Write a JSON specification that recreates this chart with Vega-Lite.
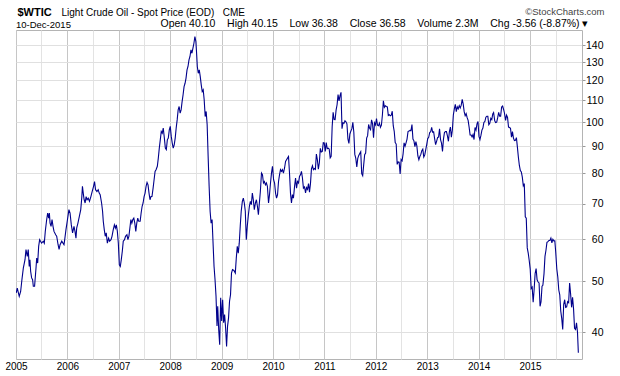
{
  "$schema": "https://vega.github.io/schema/vega-lite/v6.json",
  "width": 566,
  "height": 329,
  "autosize": "none",
  "padding": {"left": 16, "top": 30, "right": 38, "bottom": 17},
  "background": "white",
  "title": {
    "text": "10-Dec-2015",
    "anchor": "start",
    "frame": "group",
    "font": "Liberation Sans",
    "fontSize": 9.5,
    "fontWeight": "normal",
    "color": "#000000",
    "offset": -23
  },
  "config": {
    "view": {"stroke": "#b4b4b4", "strokeWidth": 1},
    "font": "Liberation Sans"
  },
  "data": {"values": [
    {"d":"2005-01-03","v":47.5},{"d":"2005-01-10","v":48.5},{"d":"2005-01-24","v":46.8},{"d":"2005-02-03","v":47.8},{"d":"2005-02-12","v":50.3},{"d":"2005-02-22","v":52.9},{"d":"2005-03-06","v":54.9},{"d":"2005-03-13","v":57.4},{"d":"2005-03-22","v":55.7},{"d":"2005-03-29","v":57.4},{"d":"2005-04-05","v":53.3},{"d":"2005-04-10","v":54.9},{"d":"2005-04-15","v":52.2},{"d":"2005-04-22","v":50.7},{"d":"2005-04-29","v":50.3},{"d":"2005-05-04","v":48.9},{"d":"2005-05-13","v":48.9},{"d":"2005-05-23","v":52.9},{"d":"2005-05-28","v":55.3},{"d":"2005-06-04","v":54.1},{"d":"2005-06-11","v":58.2},{"d":"2005-06-18","v":59.9},{"d":"2005-07-02","v":59.0},{"d":"2005-07-14","v":59.5},{"d":"2005-07-21","v":59.0},{"d":"2005-07-28","v":62.1},{"d":"2005-08-07","v":65.4},{"d":"2005-08-14","v":67.3},{"d":"2005-08-21","v":65.8},{"d":"2005-08-26","v":67.3},{"d":"2005-08-31","v":64.4},{"d":"2005-09-07","v":63.5},{"d":"2005-09-14","v":65.4},{"d":"2005-09-21","v":63.5},{"d":"2005-09-28","v":62.1},{"d":"2005-10-10","v":61.2},{"d":"2005-10-17","v":60.8},{"d":"2005-10-27","v":58.6},{"d":"2005-11-03","v":57.4},{"d":"2005-11-10","v":58.6},{"d":"2005-11-22","v":59.5},{"d":"2005-12-01","v":59.0},{"d":"2005-12-08","v":58.6},{"d":"2005-12-13","v":59.9},{"d":"2005-12-22","v":62.6},{"d":"2005-12-29","v":64.4},
    {"d":"2006-01-12","v":68.3},{"d":"2006-01-20","v":67.3},{"d":"2006-01-29","v":63.9},{"d":"2006-02-07","v":61.7},{"d":"2006-02-17","v":63.5},{"d":"2006-02-24","v":62.1},{"d":"2006-03-03","v":60.3},{"d":"2006-03-08","v":63.0},{"d":"2006-03-17","v":64.4},{"d":"2006-03-27","v":66.3},{"d":"2006-04-06","v":68.3},{"d":"2006-04-13","v":71.8},{"d":"2006-04-18","v":75.6},{"d":"2006-04-25","v":72.9},{"d":"2006-04-30","v":71.3},{"d":"2006-05-07","v":70.3},{"d":"2006-05-14","v":72.3},{"d":"2006-05-21","v":71.3},{"d":"2006-05-29","v":71.8},{"d":"2006-06-07","v":70.8},{"d":"2006-06-17","v":72.3},{"d":"2006-06-26","v":73.9},{"d":"2006-07-06","v":75.6},{"d":"2006-07-13","v":77.2},{"d":"2006-07-20","v":74.5},{"d":"2006-07-30","v":73.9},{"d":"2006-08-08","v":74.5},{"d":"2006-08-15","v":73.4},{"d":"2006-08-22","v":72.9},{"d":"2006-09-01","v":70.3},{"d":"2006-09-08","v":67.8},{"d":"2006-09-13","v":64.9},{"d":"2006-09-20","v":62.6},{"d":"2006-09-27","v":60.8},{"d":"2006-10-04","v":61.7},{"d":"2006-10-12","v":59.0},{"d":"2006-10-21","v":60.3},{"d":"2006-10-28","v":59.5},{"d":"2006-11-07","v":59.9},{"d":"2006-11-14","v":60.8},{"d":"2006-11-23","v":62.6},{"d":"2006-12-01","v":63.9},{"d":"2006-12-08","v":63.0},{"d":"2006-12-15","v":63.9},{"d":"2006-12-22","v":62.1},{"d":"2006-12-29","v":59.0},
    {"d":"2007-01-05","v":53.7},{"d":"2007-01-12","v":53.3},{"d":"2007-01-19","v":54.9},{"d":"2007-01-26","v":56.9},{"d":"2007-02-02","v":59.5},{"d":"2007-02-11","v":59.9},{"d":"2007-02-18","v":60.8},{"d":"2007-02-28","v":61.2},{"d":"2007-03-07","v":59.9},{"d":"2007-03-14","v":60.8},{"d":"2007-03-21","v":63.0},{"d":"2007-03-28","v":65.4},{"d":"2007-04-04","v":64.4},{"d":"2007-04-11","v":65.4},{"d":"2007-04-18","v":65.8},{"d":"2007-04-25","v":64.4},{"d":"2007-05-02","v":62.1},{"d":"2007-05-09","v":64.4},{"d":"2007-05-16","v":65.8},{"d":"2007-05-23","v":64.9},{"d":"2007-06-02","v":64.9},{"d":"2007-06-09","v":67.3},{"d":"2007-06-16","v":69.3},{"d":"2007-06-23","v":70.3},{"d":"2007-06-30","v":72.3},{"d":"2007-07-07","v":73.4},{"d":"2007-07-14","v":75.6},{"d":"2007-07-21","v":76.9},{"d":"2007-07-28","v":76.1},{"d":"2007-08-04","v":73.4},{"d":"2007-08-11","v":71.3},{"d":"2007-08-18","v":72.3},{"d":"2007-08-25","v":72.3},{"d":"2007-09-02","v":75.0},{"d":"2007-09-09","v":77.8},{"d":"2007-09-16","v":80.7},{"d":"2007-09-23","v":81.3},{"d":"2007-10-02","v":82.5},{"d":"2007-10-09","v":85.5},{"d":"2007-10-16","v":89.3},{"d":"2007-10-23","v":92.6},{"d":"2007-10-30","v":96.0},{"d":"2007-11-06","v":95.3},{"d":"2007-11-13","v":97.5},{"d":"2007-11-21","v":93.3},{"d":"2007-11-28","v":89.3},{"d":"2007-12-05","v":88.7},{"d":"2007-12-12","v":92.6},{"d":"2007-12-19","v":93.3},{"d":"2007-12-26","v":96.7},
    {"d":"2008-01-02","v":98.2},{"d":"2008-01-09","v":94.0},{"d":"2008-01-16","v":91.3},{"d":"2008-01-23","v":89.3},{"d":"2008-01-30","v":90.6},{"d":"2008-02-06","v":93.3},{"d":"2008-02-13","v":97.5},{"d":"2008-02-20","v":101.0},{"d":"2008-02-27","v":105.5},{"d":"2008-03-05","v":107.1},{"d":"2008-03-12","v":104.0},{"d":"2008-03-19","v":105.5},{"d":"2008-03-26","v":109.4},{"d":"2008-04-02","v":112.7},{"d":"2008-04-09","v":116.8},{"d":"2008-04-16","v":118.5},{"d":"2008-04-23","v":121.2},{"d":"2008-04-30","v":125.6},{"d":"2008-05-07","v":127.5},{"d":"2008-05-14","v":131.2},{"d":"2008-05-21","v":133.2},{"d":"2008-05-28","v":137.1},{"d":"2008-06-04","v":135.1},{"d":"2008-06-11","v":138.1},{"d":"2008-06-18","v":141.1},{"d":"2008-06-25","v":145.3},{"d":"2008-07-02","v":142.1},{"d":"2008-07-07","v":135.1},{"d":"2008-07-12","v":127.5},{"d":"2008-07-19","v":123.8},{"d":"2008-07-26","v":125.6},{"d":"2008-08-02","v":122.0},{"d":"2008-08-09","v":117.7},{"d":"2008-08-16","v":114.3},{"d":"2008-08-23","v":115.2},{"d":"2008-08-30","v":110.2},{"d":"2008-09-06","v":102.5},{"d":"2008-09-13","v":104.8},{"d":"2008-09-20","v":98.9},{"d":"2008-09-27","v":86.1},{"d":"2008-10-04","v":75.6},{"d":"2008-10-11","v":67.8},{"d":"2008-10-18","v":64.4},{"d":"2008-10-25","v":65.4},{"d":"2008-11-01","v":59.0},{"d":"2008-11-08","v":53.3},{"d":"2008-11-15","v":50.3},{"d":"2008-11-22","v":46.8},{"d":"2008-11-29","v":41.1},{"d":"2008-12-04","v":44.8},{"d":"2008-12-11","v":40.5},{"d":"2008-12-18","v":37.9},{"d":"2008-12-25","v":46.5},
    {"d":"2009-01-01","v":42.0},{"d":"2009-01-08","v":46.1},{"d":"2009-01-15","v":41.7},{"d":"2009-01-22","v":43.2},{"d":"2009-01-29","v":40.8},{"d":"2009-02-05","v":37.6},{"d":"2009-02-12","v":41.1},{"d":"2009-02-19","v":42.6},{"d":"2009-02-26","v":45.8},{"d":"2009-03-05","v":47.1},{"d":"2009-03-12","v":51.8},{"d":"2009-03-19","v":52.6},{"d":"2009-03-29","v":52.4},{"d":"2009-04-08","v":51.8},{"d":"2009-04-15","v":55.3},{"d":"2009-04-22","v":58.2},{"d":"2009-04-29","v":56.5},{"d":"2009-05-06","v":59.0},{"d":"2009-05-13","v":63.5},{"d":"2009-05-20","v":67.8},{"d":"2009-05-28","v":70.8},{"d":"2009-06-04","v":71.8},{"d":"2009-06-11","v":70.3},{"d":"2009-06-18","v":67.8},{"d":"2009-06-25","v":59.9},{"d":"2009-07-02","v":63.5},{"d":"2009-07-10","v":66.8},{"d":"2009-07-17","v":69.3},{"d":"2009-07-24","v":70.8},{"d":"2009-07-31","v":69.8},{"d":"2009-08-07","v":73.4},{"d":"2009-08-14","v":71.3},{"d":"2009-08-21","v":68.3},{"d":"2009-08-29","v":70.3},{"d":"2009-09-05","v":71.3},{"d":"2009-09-12","v":69.3},{"d":"2009-09-19","v":66.8},{"d":"2009-09-26","v":70.3},{"d":"2009-10-03","v":73.9},{"d":"2009-10-11","v":80.1},{"d":"2009-10-18","v":79.5},{"d":"2009-10-25","v":76.7},{"d":"2009-11-01","v":77.2},{"d":"2009-11-08","v":76.1},{"d":"2009-11-15","v":76.7},{"d":"2009-11-22","v":75.6},{"d":"2009-11-30","v":70.3},{"d":"2009-12-07","v":72.9},{"d":"2009-12-14","v":76.7},{"d":"2009-12-21","v":80.1},{"d":"2009-12-28","v":82.5},
    {"d":"2010-01-05","v":77.8},{"d":"2010-01-12","v":76.7},{"d":"2010-01-19","v":73.4},{"d":"2010-01-26","v":71.8},{"d":"2010-02-02","v":72.9},{"d":"2010-02-09","v":77.2},{"d":"2010-02-16","v":79.5},{"d":"2010-02-23","v":81.3},{"d":"2010-03-02","v":80.7},{"d":"2010-03-09","v":81.3},{"d":"2010-03-16","v":80.1},{"d":"2010-03-24","v":81.9},{"d":"2010-03-31","v":84.3},{"d":"2010-04-07","v":84.9},{"d":"2010-04-14","v":85.5},{"d":"2010-04-21","v":86.1},{"d":"2010-04-28","v":80.1},{"d":"2010-05-05","v":73.4},{"d":"2010-05-12","v":70.3},{"d":"2010-05-19","v":72.9},{"d":"2010-05-26","v":71.8},{"d":"2010-06-03","v":75.6},{"d":"2010-06-10","v":78.4},{"d":"2010-06-17","v":75.0},{"d":"2010-06-24","v":77.2},{"d":"2010-07-01","v":76.7},{"d":"2010-07-08","v":78.9},{"d":"2010-07-15","v":79.5},{"d":"2010-07-22","v":80.7},{"d":"2010-07-29","v":78.4},{"d":"2010-08-05","v":75.0},{"d":"2010-08-13","v":75.4},{"d":"2010-08-20","v":73.5},{"d":"2010-08-27","v":75.2},{"d":"2010-09-03","v":74.6},{"d":"2010-09-10","v":76.5},{"d":"2010-09-17","v":73.7},{"d":"2010-09-24","v":76.5},{"d":"2010-10-01","v":81.6},{"d":"2010-10-08","v":82.7},{"d":"2010-10-15","v":81.3},{"d":"2010-10-22","v":81.7},{"d":"2010-10-29","v":81.4},{"d":"2010-11-05","v":87.0},{"d":"2010-11-12","v":84.9},{"d":"2010-11-19","v":81.5},{"d":"2010-11-26","v":83.8},{"d":"2010-12-03","v":89.2},{"d":"2010-12-10","v":87.8},{"d":"2010-12-17","v":88.0},{"d":"2010-12-24","v":91.5},{"d":"2010-12-31","v":91.4},
    {"d":"2011-01-07","v":88.0},{"d":"2011-01-14","v":91.5},{"d":"2011-01-21","v":89.1},{"d":"2011-01-28","v":89.3},{"d":"2011-02-04","v":89.0},{"d":"2011-02-11","v":85.6},{"d":"2011-02-18","v":86.2},{"d":"2011-02-25","v":97.9},{"d":"2011-03-04","v":104.4},{"d":"2011-03-11","v":101.2},{"d":"2011-03-18","v":101.1},{"d":"2011-03-25","v":105.4},{"d":"2011-04-01","v":107.9},{"d":"2011-04-08","v":112.8},{"d":"2011-04-15","v":109.7},{"d":"2011-04-22","v":112.3},{"d":"2011-04-29","v":113.9},{"d":"2011-05-06","v":97.2},{"d":"2011-05-13","v":99.7},{"d":"2011-05-20","v":99.5},{"d":"2011-05-27","v":100.6},{"d":"2011-06-03","v":100.2},{"d":"2011-06-10","v":99.3},{"d":"2011-06-17","v":93.0},{"d":"2011-06-24","v":91.2},{"d":"2011-07-01","v":95.0},{"d":"2011-07-08","v":96.2},{"d":"2011-07-15","v":97.2},{"d":"2011-07-22","v":99.9},{"d":"2011-07-29","v":95.7},{"d":"2011-08-05","v":86.9},{"d":"2011-08-12","v":85.4},{"d":"2011-08-19","v":82.3},{"d":"2011-08-26","v":85.4},{"d":"2011-09-02","v":86.5},{"d":"2011-09-09","v":87.2},{"d":"2011-09-16","v":87.9},{"d":"2011-09-23","v":79.9},{"d":"2011-09-30","v":79.2},{"d":"2011-10-07","v":83.0},{"d":"2011-10-14","v":86.8},{"d":"2011-10-21","v":87.4},{"d":"2011-10-28","v":93.3},{"d":"2011-11-04","v":94.3},{"d":"2011-11-11","v":99.0},{"d":"2011-11-18","v":97.4},{"d":"2011-11-25","v":96.8},{"d":"2011-12-02","v":101.0},{"d":"2011-12-09","v":99.4},{"d":"2011-12-16","v":93.5},{"d":"2011-12-23","v":99.7},{"d":"2011-12-30","v":98.8},
    {"d":"2012-01-06","v":101.6},{"d":"2012-01-13","v":98.7},{"d":"2012-01-20","v":98.5},{"d":"2012-01-27","v":99.6},{"d":"2012-02-03","v":97.8},{"d":"2012-02-10","v":98.7},{"d":"2012-02-17","v":103.2},{"d":"2012-02-24","v":109.8},{"d":"2012-03-02","v":106.7},{"d":"2012-03-09","v":107.4},{"d":"2012-03-16","v":107.1},{"d":"2012-03-23","v":106.9},{"d":"2012-03-30","v":103.0},{"d":"2012-04-06","v":103.3},{"d":"2012-04-13","v":102.8},{"d":"2012-04-20","v":103.1},{"d":"2012-04-27","v":104.9},{"d":"2012-05-04","v":98.5},{"d":"2012-05-11","v":96.1},{"d":"2012-05-18","v":91.5},{"d":"2012-05-25","v":90.9},{"d":"2012-06-01","v":83.2},{"d":"2012-06-08","v":84.1},{"d":"2012-06-15","v":84.0},{"d":"2012-06-22","v":79.8},{"d":"2012-06-29","v":85.0},{"d":"2012-07-06","v":84.5},{"d":"2012-07-13","v":87.1},{"d":"2012-07-20","v":91.4},{"d":"2012-07-27","v":90.1},{"d":"2012-08-03","v":91.4},{"d":"2012-08-10","v":92.9},{"d":"2012-08-17","v":96.0},{"d":"2012-08-24","v":96.2},{"d":"2012-08-31","v":96.5},{"d":"2012-09-07","v":96.4},{"d":"2012-09-14","v":99.0},{"d":"2012-09-21","v":92.9},{"d":"2012-09-28","v":92.2},{"d":"2012-10-05","v":89.9},{"d":"2012-10-12","v":91.9},{"d":"2012-10-19","v":90.1},{"d":"2012-10-26","v":86.3},{"d":"2012-11-02","v":84.9},{"d":"2012-11-09","v":86.1},{"d":"2012-11-16","v":86.9},{"d":"2012-11-23","v":88.3},{"d":"2012-11-30","v":88.9},{"d":"2012-12-07","v":85.9},{"d":"2012-12-14","v":86.7},{"d":"2012-12-21","v":88.7},{"d":"2012-12-28","v":90.8},
    {"d":"2013-01-04","v":93.1},{"d":"2013-01-11","v":93.6},{"d":"2013-01-18","v":95.6},{"d":"2013-01-25","v":95.9},{"d":"2013-02-01","v":97.8},{"d":"2013-02-08","v":95.7},{"d":"2013-02-15","v":95.9},{"d":"2013-02-22","v":93.1},{"d":"2013-03-01","v":90.7},{"d":"2013-03-08","v":92.0},{"d":"2013-03-15","v":93.5},{"d":"2013-03-22","v":93.7},{"d":"2013-03-29","v":97.2},{"d":"2013-04-05","v":92.7},{"d":"2013-04-12","v":91.3},{"d":"2013-04-19","v":88.0},{"d":"2013-04-26","v":93.0},{"d":"2013-05-03","v":95.6},{"d":"2013-05-10","v":96.0},{"d":"2013-05-17","v":96.0},{"d":"2013-05-24","v":94.2},{"d":"2013-05-31","v":92.0},{"d":"2013-06-07","v":96.0},{"d":"2013-06-14","v":97.9},{"d":"2013-06-21","v":93.7},{"d":"2013-06-28","v":96.6},{"d":"2013-07-05","v":103.2},{"d":"2013-07-12","v":106.0},{"d":"2013-07-19","v":108.1},{"d":"2013-07-26","v":104.7},{"d":"2013-08-02","v":106.9},{"d":"2013-08-09","v":106.0},{"d":"2013-08-16","v":107.5},{"d":"2013-08-23","v":106.4},{"d":"2013-08-30","v":107.7},{"d":"2013-09-06","v":110.5},{"d":"2013-09-13","v":108.2},{"d":"2013-09-20","v":104.7},{"d":"2013-09-27","v":102.9},{"d":"2013-10-04","v":103.8},{"d":"2013-10-11","v":102.0},{"d":"2013-10-18","v":100.8},{"d":"2013-10-25","v":97.9},{"d":"2013-11-01","v":94.6},{"d":"2013-11-08","v":94.6},{"d":"2013-11-15","v":93.8},{"d":"2013-11-22","v":94.8},{"d":"2013-11-29","v":92.7},{"d":"2013-12-06","v":97.7},{"d":"2013-12-13","v":96.6},{"d":"2013-12-20","v":99.3},{"d":"2013-12-27","v":100.3},
    {"d":"2014-01-03","v":94.0},{"d":"2014-01-10","v":92.7},{"d":"2014-01-17","v":94.4},{"d":"2014-01-24","v":96.6},{"d":"2014-01-31","v":97.5},{"d":"2014-02-07","v":99.9},{"d":"2014-02-14","v":100.3},{"d":"2014-02-21","v":102.2},{"d":"2014-02-28","v":102.6},{"d":"2014-03-07","v":102.6},{"d":"2014-03-14","v":98.9},{"d":"2014-03-21","v":99.5},{"d":"2014-03-28","v":101.7},{"d":"2014-04-04","v":101.1},{"d":"2014-04-11","v":103.7},{"d":"2014-04-17","v":104.3},{"d":"2014-04-25","v":100.6},{"d":"2014-05-02","v":99.8},{"d":"2014-05-09","v":100.0},{"d":"2014-05-16","v":102.0},{"d":"2014-05-23","v":104.4},{"d":"2014-05-30","v":102.7},{"d":"2014-06-06","v":102.7},{"d":"2014-06-13","v":106.9},{"d":"2014-06-20","v":107.3},{"d":"2014-06-27","v":105.7},{"d":"2014-07-03","v":104.1},{"d":"2014-07-11","v":100.8},{"d":"2014-07-18","v":103.1},{"d":"2014-07-25","v":102.1},{"d":"2014-08-01","v":97.9},{"d":"2014-08-08","v":97.7},{"d":"2014-08-15","v":97.4},{"d":"2014-08-22","v":93.7},{"d":"2014-08-29","v":96.0},{"d":"2014-09-05","v":93.3},{"d":"2014-09-12","v":92.3},{"d":"2014-09-19","v":92.4},{"d":"2014-09-26","v":93.5},{"d":"2014-10-03","v":89.7},{"d":"2014-10-10","v":85.8},{"d":"2014-10-17","v":82.8},{"d":"2014-10-24","v":81.0},{"d":"2014-10-31","v":80.5},{"d":"2014-11-07","v":78.7},{"d":"2014-11-14","v":75.8},{"d":"2014-11-21","v":76.5},{"d":"2014-11-28","v":66.2},{"d":"2014-12-05","v":65.8},{"d":"2014-12-12","v":57.8},{"d":"2014-12-19","v":56.5},{"d":"2014-12-26","v":54.7},
    {"d":"2015-01-02","v":52.7},{"d":"2015-01-09","v":48.4},{"d":"2015-01-16","v":48.7},{"d":"2015-01-23","v":45.6},{"d":"2015-01-30","v":48.2},{"d":"2015-02-06","v":51.7},{"d":"2015-02-13","v":52.8},{"d":"2015-02-20","v":50.3},{"d":"2015-02-27","v":49.8},{"d":"2015-03-06","v":49.6},{"d":"2015-03-13","v":44.8},{"d":"2015-03-20","v":45.7},{"d":"2015-03-27","v":48.9},{"d":"2015-04-02","v":49.1},{"d":"2015-04-10","v":51.6},{"d":"2015-04-17","v":55.7},{"d":"2015-04-24","v":57.2},{"d":"2015-05-01","v":59.2},{"d":"2015-05-08","v":59.4},{"d":"2015-05-15","v":59.7},{"d":"2015-05-22","v":59.7},{"d":"2015-05-29","v":60.3},{"d":"2015-06-05","v":59.1},{"d":"2015-06-12","v":60.0},{"d":"2015-06-19","v":59.6},{"d":"2015-06-26","v":59.6},{"d":"2015-07-02","v":56.9},{"d":"2015-07-10","v":52.7},{"d":"2015-07-17","v":50.9},{"d":"2015-07-24","v":48.1},{"d":"2015-07-31","v":47.1},{"d":"2015-08-07","v":43.9},{"d":"2015-08-14","v":42.5},{"d":"2015-08-21","v":40.5},{"d":"2015-08-28","v":45.2},{"d":"2015-09-04","v":46.1},{"d":"2015-09-11","v":44.6},{"d":"2015-09-18","v":44.7},{"d":"2015-09-25","v":45.7},{"d":"2015-10-02","v":45.5},{"d":"2015-10-09","v":49.6},{"d":"2015-10-16","v":47.3},{"d":"2015-10-23","v":44.6},{"d":"2015-10-30","v":46.6},{"d":"2015-11-06","v":44.3},{"d":"2015-11-13","v":40.7},{"d":"2015-11-20","v":40.5},{"d":"2015-11-27","v":41.7},{"d":"2015-12-04","v":40.0},{"d":"2015-12-10","v":36.58}
  ]},
  "layer": [
    {
      "mark": {"type": "line", "color": "#00008b", "strokeWidth": 1.1, "clip": true},
      "encoding": {
        "x": {
          "field": "d", "type": "temporal",
          "scale": {"type": "utc", "domain": [{"year": 2005, "month": 1, "date": 1, "utc": true}, {"year": 2016, "month": 1, "date": 5, "utc": true}]},
          "axis": {
            "orient": "bottom",
            "values": [
              {"year": 2005, "month": 1, "date": 1, "utc": true}, {"year": 2005, "month": 7, "date": 1, "utc": true},
              {"year": 2006, "month": 1, "date": 1, "utc": true}, {"year": 2006, "month": 7, "date": 1, "utc": true},
              {"year": 2007, "month": 1, "date": 1, "utc": true}, {"year": 2007, "month": 7, "date": 1, "utc": true},
              {"year": 2008, "month": 1, "date": 1, "utc": true}, {"year": 2008, "month": 7, "date": 1, "utc": true},
              {"year": 2009, "month": 1, "date": 1, "utc": true}, {"year": 2009, "month": 7, "date": 1, "utc": true},
              {"year": 2010, "month": 1, "date": 1, "utc": true}, {"year": 2010, "month": 7, "date": 1, "utc": true},
              {"year": 2011, "month": 1, "date": 1, "utc": true}, {"year": 2011, "month": 7, "date": 1, "utc": true},
              {"year": 2012, "month": 1, "date": 1, "utc": true}, {"year": 2012, "month": 7, "date": 1, "utc": true},
              {"year": 2013, "month": 1, "date": 1, "utc": true}, {"year": 2013, "month": 7, "date": 1, "utc": true},
              {"year": 2014, "month": 1, "date": 1, "utc": true}, {"year": 2014, "month": 7, "date": 1, "utc": true},
              {"year": 2015, "month": 1, "date": 1, "utc": true}, {"year": 2015, "month": 7, "date": 1, "utc": true}
            ],
            "labelExpr": "utcmonth(datum.value) == 0 ? utcFormat(datum.value, '%Y') : ''",
            "grid": true,
            "gridColor": {"condition": {"test": "utcmonth(datum.value) == 0", "value": "#c6c6c6"}, "value": "#e3e3e3"},
            "gridWidth": 1,
            "ticks": false,
            "domain": false,
            "labelFont": "Liberation Sans",
            "labelFontSize": 10,
            "labelColor": "#000000",
            "labelPadding": 2,
            "labelFlush": false,
            "labelOverlap": false,
            "title": "Open 40.10\u00a0\u00a0\u00a0 High 40.15\u00a0\u00a0\u00a0 Low 36.38\u00a0\u00a0\u00a0 Close 36.58\u00a0\u00a0\u00a0 Volume 2.3M\u00a0\u00a0\u00a0 Chg -3.56 (-8.87%) \u25be",
            "titleX": 572,
            "titleY": -333,
            "titleAlign": "right",
            "titleAnchor": null,
            "titleBaseline": "alphabetic",
            "titleFont": "Liberation Sans",
            "titleFontSize": 10.5,
            "titleFontWeight": "normal",
            "titleColor": "#000000"
          }
        },
        "y": {
          "field": "v", "type": "quantitative",
          "scale": {"type": "log", "domain": [35.6, 149.5], "nice": false, "zero": false},
          "axis": {
            "orient": "right",
            "values": [40, 50, 60, 70, 80, 90, 100, 110, 120, 130, 140],
            "grid": true,
            "gridColor": "#e0e0e0",
            "ticks": true,
            "tickSize": 3,
            "tickColor": "#999999",
            "domain": false,
            "labelAlign": "right",
            "labelPadding": 18,
            "labelFont": "Liberation Sans",
            "labelFontSize": 10.5,
            "labelColor": "#000000",
            "labelOverlap": false,
            "title": "\u00a9StockCharts.com",
            "titleAngle": 0,
            "titleX": 22,
            "titleY": -16,
            "titleAlign": "right",
            "titleAnchor": null,
            "titleBaseline": "alphabetic",
            "titleFont": "Liberation Sans",
            "titleFontSize": 9.5,
            "titleFontWeight": "normal",
            "titleColor": "#444444"
          }
        }
      }
    },
    {
      "mark": {"type": "line", "strokeOpacity": 0},
      "encoding": {
        "x": {
          "field": "d", "type": "temporal",
          "scale": {"type": "utc", "domain": [{"year": 2005, "month": 1, "date": 1, "utc": true}, {"year": 2016, "month": 1, "date": 5, "utc": true}]},
          "axis": {
            "orient": "top", "labels": false, "ticks": false, "domain": false, "grid": false,
            "title": "Light Crude Oil - Spot Price (EOD)\u00a0\u00a0 CME",
            "titleX": 45, "titleY": -15, "titleAlign": "left", "titleAnchor": null, "titleBaseline": "alphabetic",
            "titleFont": "Liberation Sans", "titleFontSize": 10, "titleFontWeight": "normal", "titleColor": "#000000"
          }
        },
        "y": {
          "field": "v", "type": "quantitative",
          "scale": {"type": "log", "domain": [35.6, 149.5], "nice": false, "zero": false},
          "axis": {
            "orient": "left", "labels": false, "ticks": false, "domain": false, "grid": false,
            "title": "$WTIC",
            "titleAngle": 0, "titleX": 1, "titleY": -15, "titleAlign": "left", "titleAnchor": null, "titleBaseline": "alphabetic",
            "titleFont": "Liberation Sans", "titleFontSize": 11, "titleFontWeight": "bold", "titleColor": "#000000"
          }
        }
      }
    }
  ],
  "resolve": {"scale": {"x": "independent", "y": "independent"}, "axis": {"x": "independent", "y": "independent"}}
}
